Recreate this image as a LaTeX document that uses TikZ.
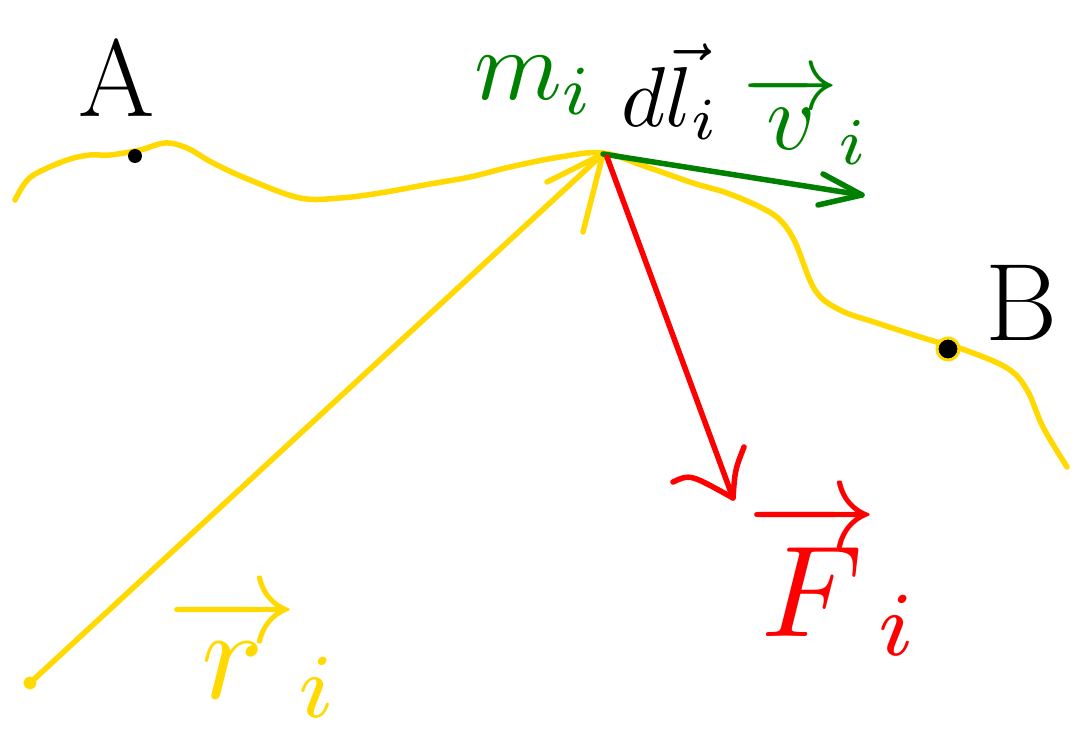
\documentclass[tikz,border=0pt]{standalone}
\usepackage{amsmath}
\definecolor{hyellow}{RGB}{255,217,0}
\definecolor{hgreen}{RGB}{0,128,0}
\definecolor{hred}{RGB}{255,0,0}
\begin{document}
\begin{tikzpicture}[x=1pt,y=-1pt,line cap=round,line join=round,
  pen/.style={line width=5.5pt},
  lbl/.style={inner sep=0pt,anchor=base west},
  big/.style={inner sep=0pt,anchor=base west,transform shape,scale=#1},
  pt/.style={circle,fill=black,inner sep=0pt,minimum size=13pt}]
\useasboundingbox (0,0) rectangle (1072,733);
\fill[white] (0,0) rectangle (1072,733);
% key points
\coordinate (P) at (603,154);
\coordinate (O) at (30,683);
% trajectory
\draw[pen,hyellow] plot[smooth,tension=0.6] coordinates {(15,200) (25,183) (37,173) (67,160) (90,155) (110,155) (140,150) (165,143) (187,148) (213,163) (250,180) (300,198) (340,198) (380,193) (430,184) (470,177) (510,167) (560,157) (603,153) (647,167) (693,183) (727,193) (760,207) (780,220) (795,242) (815,290) (840,310) (877,323) (930,340) (962,349) (1007,368) (1027,390) (1043,427) (1067,467)};
% position vector r_i
\draw[pen,hyellow] (O) -- (P);
\coordinate (rb1) at (547,182);
\coordinate (rb2) at (583,232);
\draw[pen,hyellow] (rb1) -- (P) -- (rb2);
\draw[line width=4pt,hyellow] (O) circle (4.5pt);
% velocity
\coordinate (vt) at (862,195);
\coordinate (vb1) at (823,174);
\coordinate (vb2) at (818,205);
\draw[pen,hgreen] (P) -- (vt);
\draw[pen,hgreen] (vb1) -- (vt) -- (vb2);
% force
\coordinate (Ft) at (733,498);
\coordinate (Fb1) at (673,482);
\coordinate (Fb2) at (744,447);
\draw[pen,hred] (607,157) -- (Ft);
\draw[pen,hred] (Fb1) .. controls (690,474) .. (Ft) .. controls (735,470) .. (Fb2);
% points A and B
\node[pt,minimum size=14pt] (pA) at (135,156) {};
\node[pt,draw=hyellow,line width=3pt,minimum size=22pt] (pB) at (948,349) {};
% label anchors
\coordinate (m0) at (472,100);
\coordinate (d0) at (620,127);
\coordinate (v0) at (742,150);
\coordinate (F0) at (745,636);
\coordinate (r0) at (165,698);
% labels
\node[lbl,font=\fontsize{110}{120}\selectfont] (lA) at (78,117) {A};
\node[lbl,font=\fontsize{110}{120}\selectfont] (lB) at (985,340) {B};
\node[big=10,hgreen] (lm) at (m0) {$m_i$};
\node[big=8.5] (ldl) at (d0) {$d\vec{l}_i$};
\node[big=9.5,hgreen] (lv) at (v0) {$\overrightarrow{v}_i$};
\node[big=13,hred] (lF) at (F0) {$\overrightarrow{F}_i$};
\node[big=13,hyellow] (lr) at (r0) {$\overrightarrow{r}_i$};
\end{tikzpicture}
\end{document}
